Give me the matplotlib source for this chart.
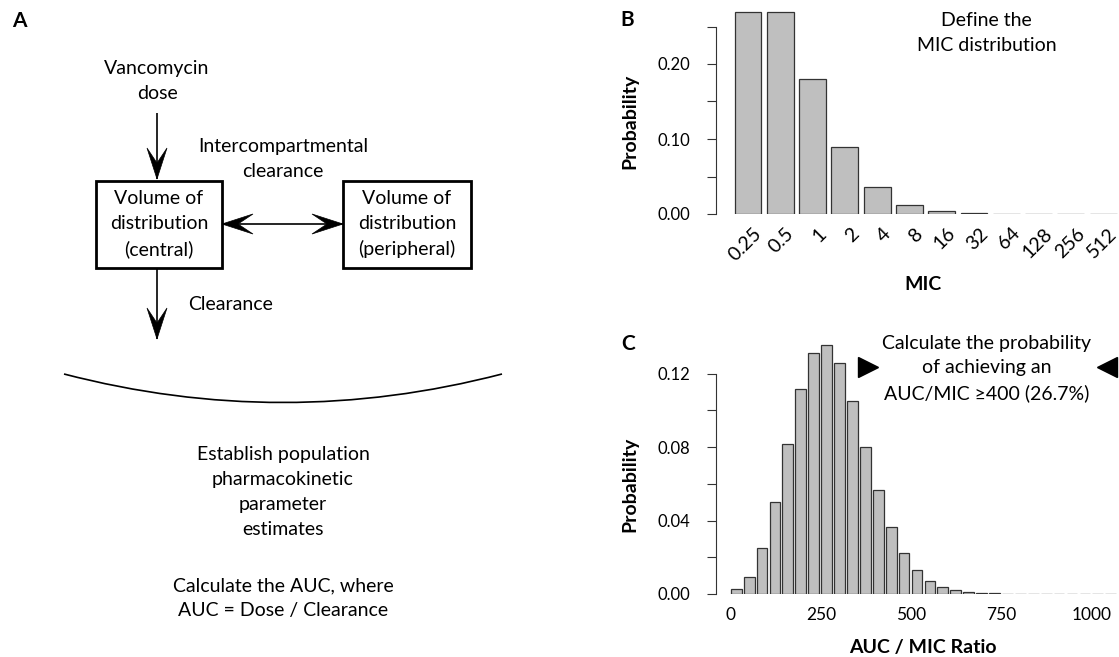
import numpy as np
import matplotlib
matplotlib.use("Agg")
import matplotlib.pyplot as plt
from matplotlib.patches import Rectangle, Polygon, PathPatch
from matplotlib.path import Path
from matplotlib.transforms import ScaledTranslation

plt.rcParams["font.family"] = ["Lato", "DejaVu Sans"]

# Panel B: MIC distribution
mic_labels = ["0.25", "0.5", "1", "2", "4", "8", "16", "32", "64", "128", "256", "512"]
mic_prob = [0.27, 0.27, 0.18, 0.09, 0.036, 0.012, 0.0037, 0.0012, 0.0004, 0.0001, 0.00005, 0.00002]

# Panel C: AUC/MIC distribution (30 bins)
auc_prob = [0.0025, 0.0095, 0.025, 0.050, 0.0816, 0.1116, 0.1311, 0.1358, 0.1258, 0.1049,
            0.080, 0.0564, 0.0367, 0.0224, 0.0131, 0.0071, 0.0038, 0.0020, 0.0009, 0.0005,
            0.0003, 0.0002, 0.0001, 0.0001, 0.00005, 0.00005, 0.00003, 0.00002, 0.00001, 0.00001]
auc_mid = 15 + 35.8 * np.arange(len(auc_prob))
auc_ticks = [0, 250, 500, 750, 1000]

W, H = 1119, 657
fig = plt.figure(figsize=(W / 100, H / 100), dpi=100)

BAR_FC = "#bfbfbf"
BAR_EC = "#333333"
TXT = 14
TICK = 12.5
LS = 1.55


def px_rect(left, top, right, bottom):
    return [left / W, 1 - bottom / H, (right - left) / W, (bottom - top) / H]


def arrow(ax, p0, p1, both=False):
    ax.plot([p0[0], p1[0]], [p0[1], p1[1]], color="black", lw=1.2, solid_capstyle="butt")
    heads = [(p1, p0)] + ([(p0, p1)] if both else [])
    for tip, tail in heads:
        tip = np.array(tip, float)
        d = tip - np.array(tail, float)
        d = d / np.hypot(*d)
        n = np.array([-d[1], d[0]])
        pts = [tip, tip - 31 * d + 10 * n, tip - 16 * d, tip - 31 * d - 10 * n]
        ax.add_patch(Polygon(pts, closed=True, fc="black", ec="black", lw=0.5))


# ---- Panel A: schematic (pixel coordinates) ----
axA = fig.add_axes([0, 0, 600 / W, 1])
axA.set_xlim(0, 600)
axA.set_ylim(H, 0)
axA.axis("off")

axA.text(19, 21, "A", fontsize=15, fontweight="bold", ha="center", va="center")
axA.text(157, 81, "Vancomycin\ndose", fontsize=TXT, ha="center", va="center", linespacing=LS)
arrow(axA, (157, 113), (157, 179))

axA.add_patch(Rectangle((96, 181), 126, 87, fill=False, ec="black", lw=2))
axA.add_patch(Rectangle((343, 181), 128, 87, fill=False, ec="black", lw=2))
axA.text(159, 224, "Volume of\ndistribution\n(central)", fontsize=TXT, ha="center", va="center", linespacing=LS)
axA.text(407, 224, "Volume of\ndistribution\n(peripheral)", fontsize=TXT, ha="center", va="center", linespacing=LS)
axA.text(283, 159, "Intercompartmental\nclearance", fontsize=TXT, ha="center", va="center", linespacing=LS)
arrow(axA, (222, 224), (343, 224), both=True)

arrow(axA, (157, 268), (157, 339))
axA.text(188, 304, "Clearance", fontsize=TXT, ha="left", va="center")

curve = Path([(64, 374), (283, 431), (502, 374)], [Path.MOVETO, Path.CURVE3, Path.CURVE3])
axA.add_patch(PathPatch(curve, fill=False, ec="black", lw=1.2))

axA.text(283, 492, "Establish population\npharmacokinetic\nparameter\nestimates",
         fontsize=TXT, ha="center", va="center", linespacing=LS)
axA.text(283, 598, "Calculate the AUC, where\nAUC = Dose / Clearance",
         fontsize=TXT, ha="center", va="center", linespacing=LS)

# ---- Panel B: MIC distribution ----
axB = fig.add_axes(px_rect(716, 10, 1119, 214))
xb = np.arange(len(mic_prob))
axB.bar(xb, mic_prob, width=1 / 1.2, color=BAR_FC, edgecolor=BAR_EC, lw=0.9)
axB.set_xlim(-0.99, 11.49)
axB.set_ylim(0, 0.272)
for s in ["top", "right", "bottom"]:
    axB.spines[s].set_visible(False)
axB.spines["left"].set_bounds(0, 0.25)
axB.spines["left"].set_color("#333333")
yt = np.arange(0, 0.2501, 0.05)
axB.set_yticks(yt, ["0.00", "", "0.10", "", "0.20", ""])
axB.tick_params(axis="y", length=6.7, width=0.8, color="#333333", pad=12, labelsize=12)
axB.set_xticks(xb, mic_labels, rotation=45, ha="right", va="center", rotation_mode="anchor")
axB.tick_params(axis="x", length=0, pad=12, labelsize=14)
shift = ScaledTranslation(0.11, 0, fig.dpi_scale_trans)
for lab in axB.get_xticklabels():
    lab.set_transform(lab.get_transform() + shift)
axB.set_ylabel("Probability", fontsize=TXT, fontweight="bold", va="center")
axB.yaxis.set_label_coords(-0.213, 0.452)
axB.set_xlabel("MIC", fontsize=TXT, fontweight="bold", va="center")
axB.xaxis.set_label_coords(0.514, -0.348)
axB.text(0.672, 0.887, "Define the\nMIC distribution", transform=axB.transAxes,
         fontsize=TXT, ha="center", va="center", linespacing=LS)
fig.text(627 / W, 1 - 20 / H, "B", fontsize=15, fontweight="bold", ha="center", va="center")

# ---- Panel C: AUC/MIC distribution ----
axC = fig.add_axes(px_rect(716, 337, 1119, 594))
axC.bar(auc_mid, auc_prob, width=35.8 / 1.2, color=BAR_FC, edgecolor=BAR_EC, lw=0.9)
axC.set_xlim(-41, 1076)
axC.set_ylim(0, 0.14)
for s in ["top", "right", "bottom"]:
    axC.spines[s].set_visible(False)
axC.spines["left"].set_bounds(0, 0.12)
axC.spines["left"].set_color("#333333")
yt = np.arange(0, 0.1201, 0.02)
axC.set_yticks(yt, ["0.00", "", "0.04", "", "0.08", "", "0.12"])
axC.tick_params(axis="y", length=6.7, width=0.8, color="#333333", pad=12, labelsize=12)
axC.set_xticks(auc_ticks, [str(t) for t in auc_ticks])
axC.tick_params(axis="x", length=0, pad=9, labelsize=TICK)
axC.set_ylabel("Probability", fontsize=TXT, fontweight="bold", va="center")
axC.yaxis.set_label_coords(-0.213, 0.425)
axC.set_xlabel("AUC / MIC Ratio", fontsize=TXT, fontweight="bold", va="center")
axC.xaxis.set_label_coords(0.514, -0.21)
axC.text(0.672, 0.877, "Calculate the probability\nof achieving an\nAUC/MIC \u2265400 (26.7%)",
         transform=axC.transAxes, fontsize=TXT, ha="center", va="center", linespacing=LS)
axC.plot([0.377], [0.884], marker=">", ms=15, color="black", transform=axC.transAxes, clip_on=False)
axC.plot([0.970], [0.884], marker="<", ms=15, color="black", transform=axC.transAxes, clip_on=False)
fig.text(628 / W, 1 - 344 / H, "C", fontsize=15, fontweight="bold", ha="center", va="center")

fig.savefig("out.png", dpi=100)
